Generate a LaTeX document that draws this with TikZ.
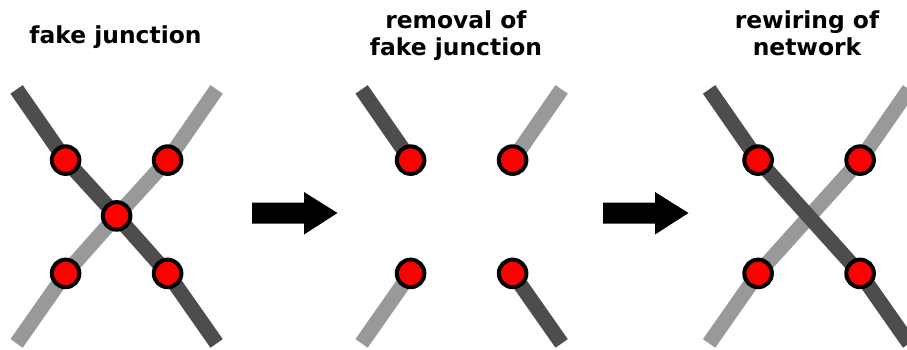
\documentclass[tikz,border=0pt]{standalone}
\usepackage{fontspec}
\usetikzlibrary{backgrounds}
\newfontfamily\headfont{DejaVu Sans}
\definecolor{wiredark}{HTML}{4D4D4D}
\definecolor{wirelight}{HTML}{999999}
\begin{document}
\begin{tikzpicture}[x=1pt,y=-1pt,
  every node/.style={inner sep=0pt},
  wire/.style={line width=15pt,line cap=butt,line join=miter},
  darkwire/.style={wire,draw=wiredark},
  lightwire/.style={wire,draw=wirelight},
  joint/.style={circle,draw=black,fill=red,line width=4pt,minimum size=27.6pt},
  heading/.style={anchor=base,font=\headfont\bfseries\fontsize{23.4}{27.2}\selectfont},
  blockarrow/.style={fill=black,draw=none}]
\useasboundingbox (0,0) rectangle (907,349);
\clip (0,0) rectangle (907,349);

% ---------- headings ----------
\node[heading] (t1) at (115.5,43.3) {fake junction};
\node[heading] (t2a) at (456,28.3) {removal of};
\node[heading] (t2b) at (456,55.3) {fake junction};
\node[heading] (t3a) at (807,28.3) {rewiring of};
\node[heading] (t3b) at (807,55.3) {network};

% ---------- panel 1: two wires touching in a fake junction ----------
\begin{scope}[shift={(116.6,216.4)}]
  \coordinate (a1) at (-100,-127);
  \coordinate (a2) at (100,127);
  \coordinate (b1) at (100,-127);
  \coordinate (b2) at (-100,127);
  \node[joint] (p1tl) at (-51,-56.3) {};
  \node[joint] (p1tr) at (51,-56.3) {};
  \node[joint] (p1bl) at (-51,57) {};
  \node[joint] (p1br) at (51,57) {};
  \node[joint] (p1c) at (0,-0.5) {};
\end{scope}
\begin{scope}[on background layer]
  \draw[lightwire] (b1) -- (p1tr.center) -- (p1c.center) -- (p1bl.center) -- (b2);
  \draw[darkwire] (a1) -- (p1tl.center) -- (p1c.center) -- (p1br.center) -- (a2);
\end{scope}

% ---------- panel 2: the junction removed ----------
\begin{scope}[shift={(461.6,216.4)}]
  \coordinate (c1) at (-100,-127);
  \coordinate (c2) at (100,127);
  \coordinate (d1) at (100,-127);
  \coordinate (d2) at (-100,127);
  \node[joint] (p2tl) at (-51,-56.3) {};
  \node[joint] (p2tr) at (51,-56.3) {};
  \node[joint] (p2bl) at (-51,57) {};
  \node[joint] (p2br) at (51,57) {};
\end{scope}
\begin{scope}[on background layer]
  \draw[darkwire] (c1) -- (p2tl.center);
  \draw[darkwire] (p2br.center) -- (c2);
  \draw[lightwire] (d1) -- (p2tr.center);
  \draw[lightwire] (p2bl.center) -- (d2);
\end{scope}

% ---------- panel 3: the network rewired ----------
\begin{scope}[shift={(809.1,216.4)}]
  \coordinate (e1) at (-100,-127);
  \coordinate (e2) at (100,127);
  \coordinate (f1) at (100,-127);
  \coordinate (f2) at (-100,127);
  \node[joint] (p3tl) at (-51,-56.3) {};
  \node[joint] (p3tr) at (51,-56.3) {};
  \node[joint] (p3bl) at (-51,57) {};
  \node[joint] (p3br) at (51,57) {};
\end{scope}
\begin{scope}[on background layer]
  \draw[lightwire] (f1) -- (p3tr.center) -- (p3bl.center) -- (f2);
  \draw[darkwire] (e1) -- (p3tl.center) -- (p3br.center) -- (e2);
\end{scope}

% ---------- block arrows between the panels ----------
\fill[blockarrow] (252,202.5) -- (304,202.5) -- (304,192) -- (337.5,213)
  -- (304,234.5) -- (304,223.5) -- (252,223.5) -- cycle;
\fill[blockarrow] (603,202.5) -- (655,202.5) -- (655,192) -- (688.5,213)
  -- (655,234.5) -- (655,223.5) -- (603,223.5) -- cycle;
\end{tikzpicture}
\end{document}
